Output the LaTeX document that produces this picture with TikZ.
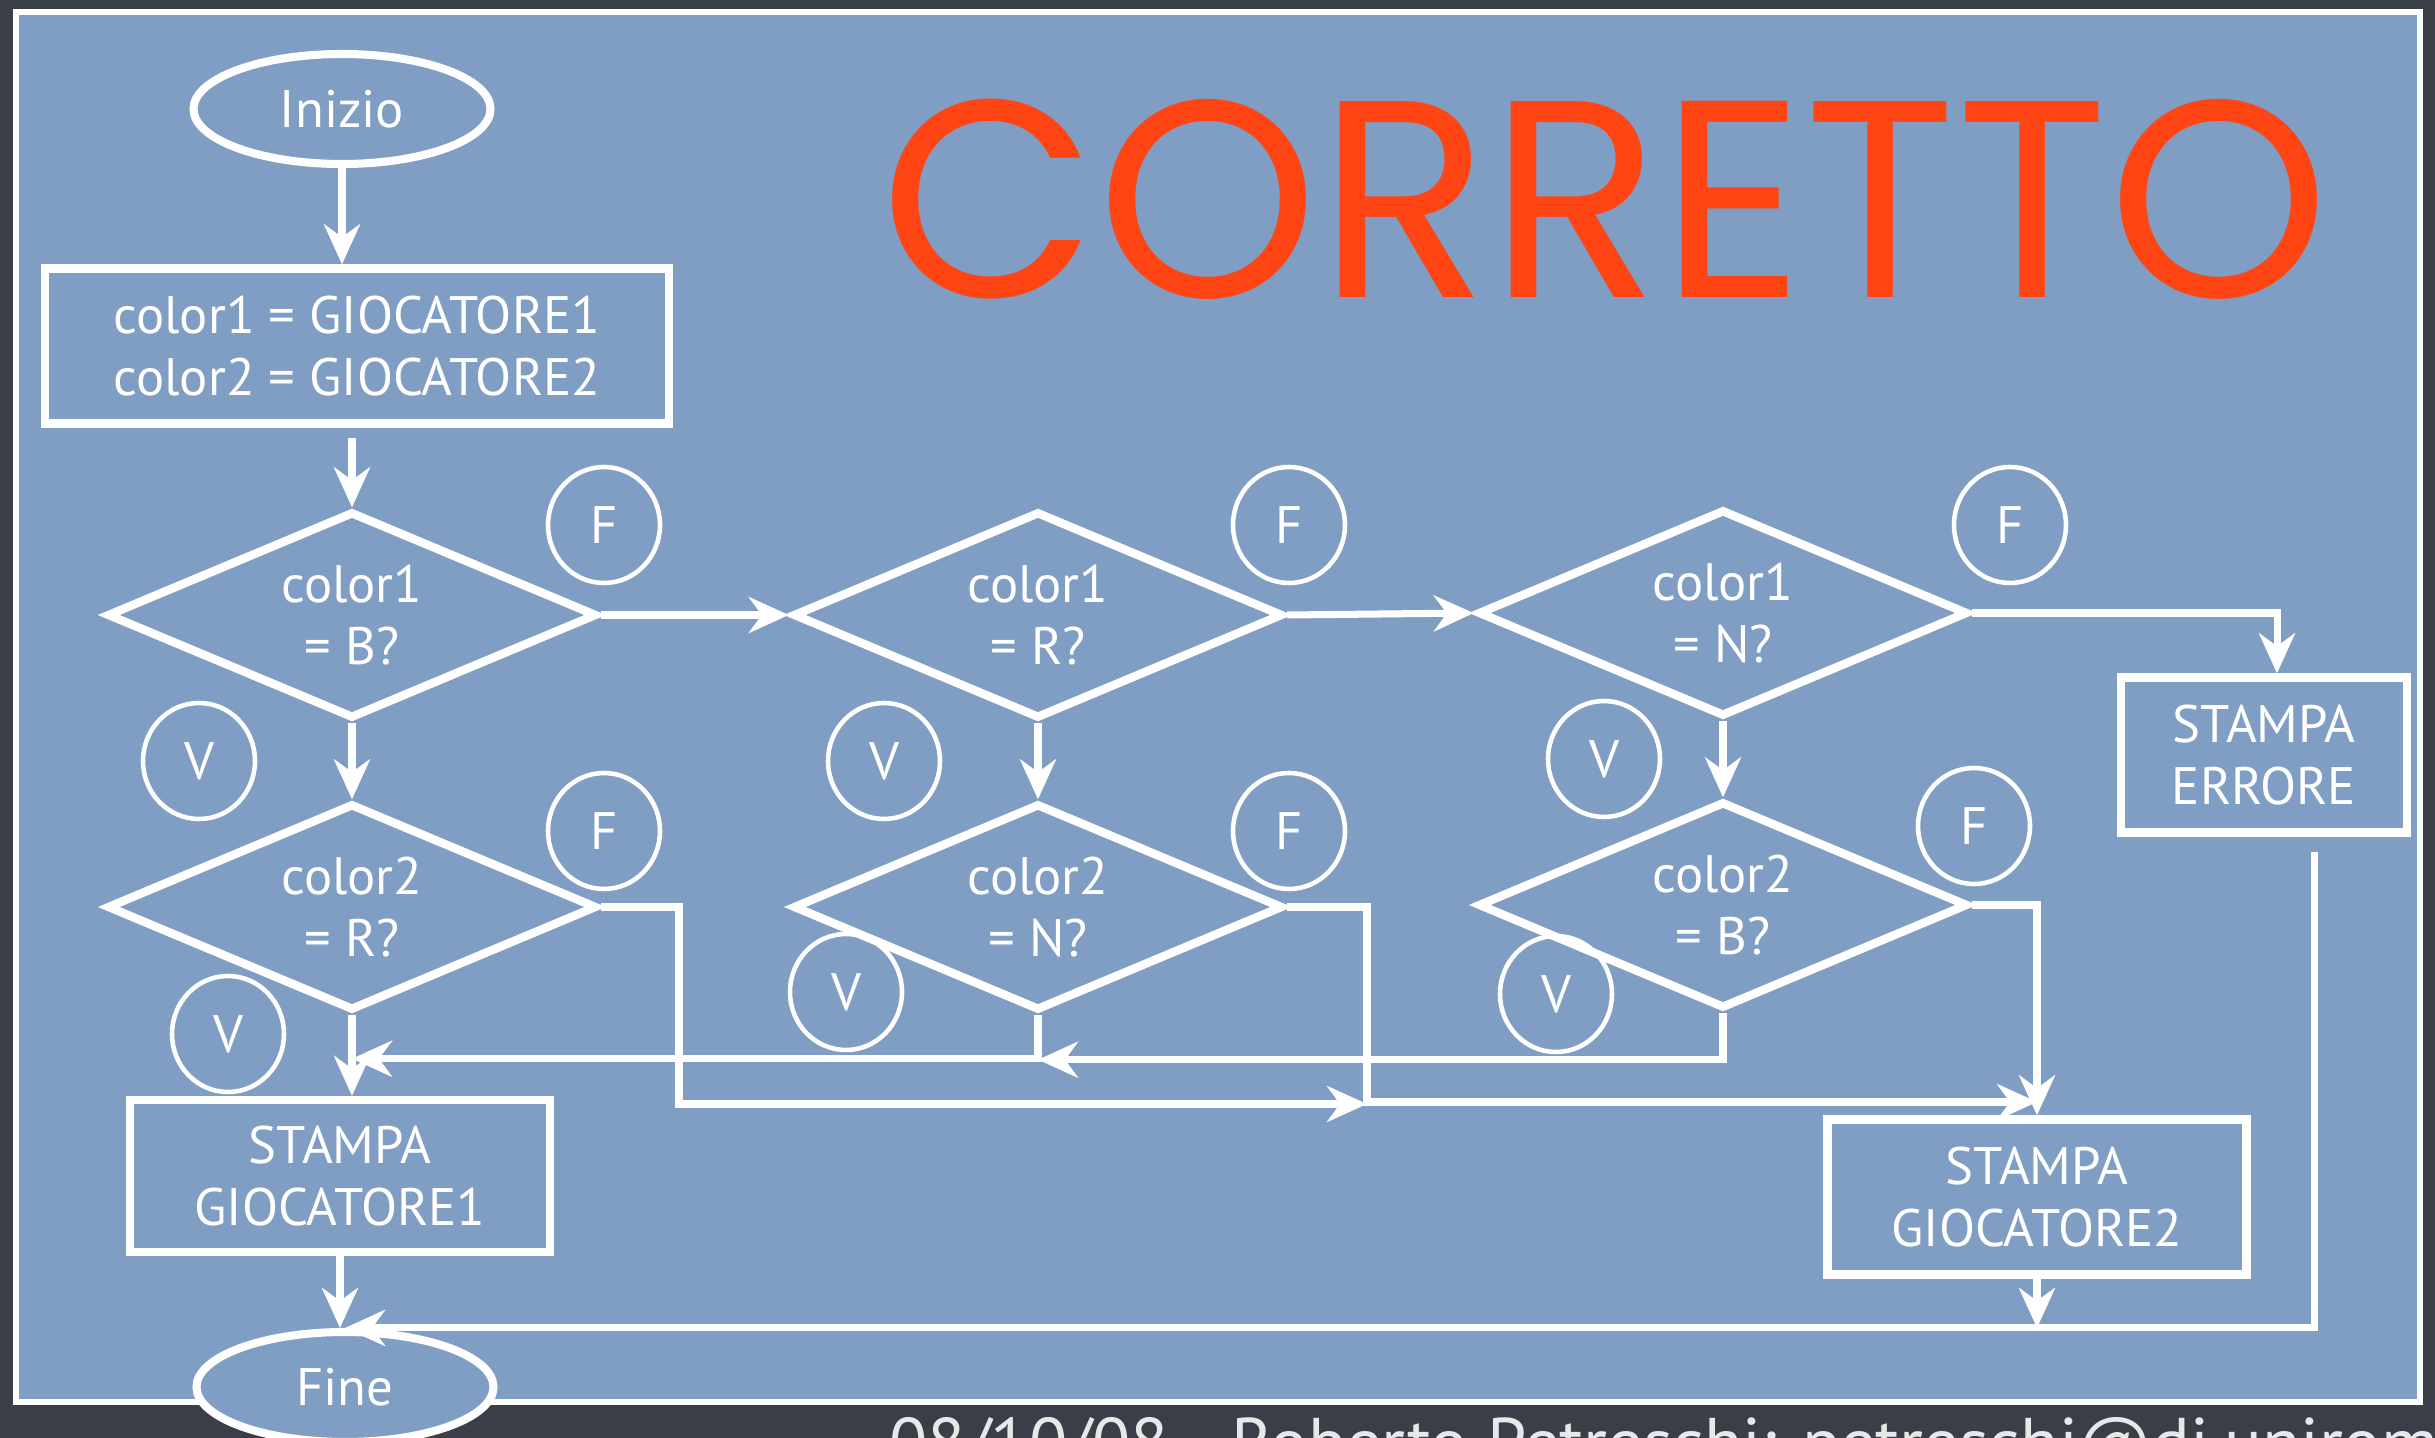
\documentclass[tikz,border=0pt]{standalone}
\usepackage{fontspec}
\setmainfont{PT Sans}
\newfontfamily\bigfont{Poppins}
\usetikzlibrary{shapes.geometric,arrows.meta}

\definecolor{slate}{RGB}{58,62,71}
\definecolor{board}{RGB}{128,157,196}
\definecolor{redmark}{RGB}{255,69,19}

\tikzset{
  txt/.style={text=white,font=\fontsize{15}{17.5}\selectfont,align=center},
  box/.style={txt,draw=white,line width=2.4pt,rectangle},
  decision/.style={txt,draw=white,line width=2.4pt,diamond,aspect=2.4,inner sep=0pt,
    minimum width=4.9cm,minimum height=2.07cm},
  terminal/.style={txt,draw=white,fill=board,line width=2.3pt,ellipse,
    minimum width=2.97cm,minimum height=1.1cm},
  flag/.style={txt,draw=white,line width=1.3pt,ellipse,inner sep=0pt,
    minimum width=1.12cm,minimum height=1.16cm},
  link/.style={draw=white,line width=2pt},
  flow/.style={link,-{Stealth[length=4mm,width=3.6mm,inset=1.3mm]}},
}

\begin{document}
\begin{tikzpicture}
        \useasboundingbox (0,0) rectangle (24.35,-14.38);
        \clip (0,0) rectangle (24.35,-14.38);
        \fill[slate] (0,0) rectangle (24.35,-14.38);
        \draw[white,fill=board,line width=1.7pt] (0.16,-0.12) rectangle (24.2,-14.02);

        % titolo
        \node[anchor=base,text=redmark,font=\bigfont\fontsize{80}{80}\selectfont] (title) at (16.05,-2.98) {CORRETTO};

        % blocchi
        \node[terminal] (inizio) at (3.42,-1.09) {Inizio};
        \node[box,minimum width=6.24cm,minimum height=1.55cm] (init) at (3.57,-3.46)
             {color1 = GIOCATORE1\\color2 = GIOCATORE2};
        \node[decision] (c1b) at (3.52,-6.15) {color1\\= B?};
        \node[decision] (c1r) at (10.38,-6.15) {color1\\= R?};
        \node[decision] (c1n) at (17.23,-6.13) {color1\\= N?};
        \node[decision] (c2r) at (3.52,-9.07) {color2\\= R?};
        \node[decision] (c2n) at (10.38,-9.07) {color2\\= N?};
        \node[decision] (c2b) at (17.23,-9.05) {color2\\= B?};
        \node[box,minimum width=2.86cm,minimum height=1.55cm] (errore) at (22.64,-7.55) {STAMPA\\ERRORE};
        \node[box,minimum width=4.2cm,minimum height=1.52cm] (g1) at (3.4,-11.76) {STAMPA\\GIOCATORE1};
        \node[box,minimum width=4.19cm,minimum height=1.55cm] (g2) at (20.37,-11.97) {STAMPA\\GIOCATORE2};
        \node[terminal] (fine) at (3.45,-13.87) {Fine};

        % etichette vero / falso
        \foreach \Point/\Name/\Label in {(6.04,-5.25)/fa/F, (12.89,-5.25)/fb/F, (20.1,-5.25)/fc/F,
                (1.99,-7.61)/va/V, (8.84,-7.61)/vb/V, (16.04,-7.59)/vc/V,
                (6.04,-8.31)/fd/F, (12.89,-8.31)/fe/F, (19.74,-8.26)/ff/F,
                (2.28,-10.34)/vd/V, (8.46,-9.92)/ve/V, (15.56,-9.94)/vf/V}
        \node[flag] (\Name) at \Point {\Label};

        % punti di raccordo
        \coordinate (m1) at (6.79,-11.04);
        \coordinate (m2) at (13.67,-11.02);

        % collegamenti
        \draw[flow] (inizio.south) -- (inizio.south |- init.north);
        \draw[flow,shorten <=1mm] (init.south -| c1b.north) -- (c1b.north);
        \draw[flow] (c1b.east) -- (c1r.west);
        \draw[flow] (c1r.east) -- (c1n.west);
        \draw[flow] (c1n.east) -| ([xshift=1.3mm]errore.north);
        \draw[flow] (c1b.south) -- (c2r.north);
        \draw[flow] (c1r.south) -- (c2n.north);
        \draw[flow] (c1n.south) -- (c1n.south |- c2b.north);
        \draw[flow] (c2r.south) -- (c2r.south |- g1.north);
        \draw[flow] (c2n.south) |- ([yshift=-4.4mm]c2r.south);
        \draw[flow] (c2b.south) |- ([yshift=-4.5mm]c2n.south);
        \draw[flow] (c2r.east) -| (m1) -- (m1 -| m2);
        \draw[flow] (c2n.east) -| (m2) -- (m2 -| g2.north);
        \draw[flow] (c2b.east) -| (g2.north);
        \draw[flow] (g1.south) -- (g1.south |- fine.north);
        \draw[flow] (g2.south) -- (g2.south |- fine.north);
        \draw[flow] ([xshift=5mm,yshift=-1.5mm]errore.south) |- (fine.north);

        % piede di pagina
        \node[anchor=base west,text=white!88!slate,font=\fontsize{20}{24}\selectfont] (foot) at (8.77,-14.67)
             {08/10/08 - Roberto Petreschi: petreschi@di.uniroma1.it};
\end{tikzpicture}
\end{document}
